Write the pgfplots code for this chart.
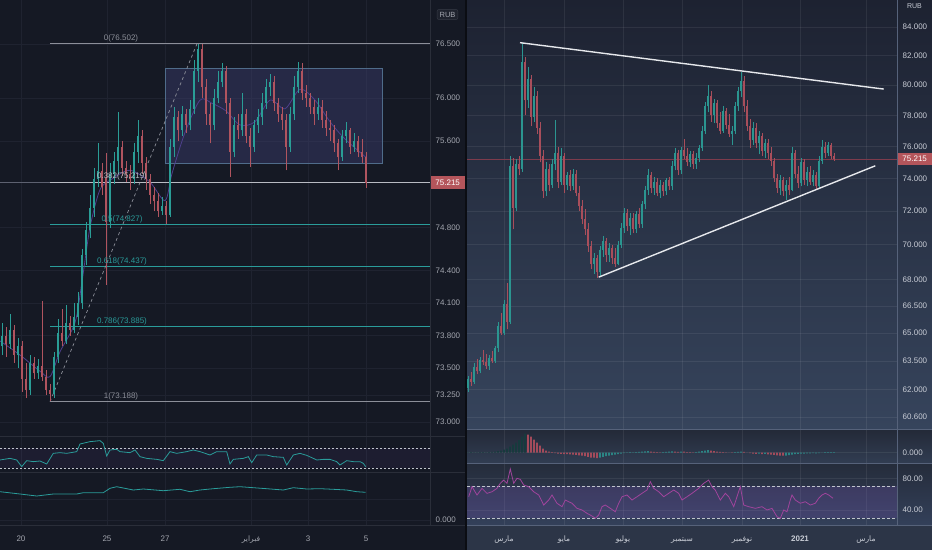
\documentclass[border=0pt]{standalone}
\usepackage{pgfplots}
\pgfplotsset{compat=1.18}
\usepackage{pgfplotstable}
\usepackage{fontspec}
\setmainfont{Liberation Sans}
\newfontfamily\arabicfont[Script=Arabic]{DejaVu Sans}
\TeXXeTstate=1
\newcommand{\ar}[1]{{\arabicfont\fontsize{7.5}{9}\selectfont\beginR #1\endR}}

\definecolor{bgL}{HTML}{151924}
\definecolor{gapc}{HTML}{0B0D13}
\definecolor{gridL}{HTML}{1F2330}
\definecolor{sepL}{HTML}{2A2E39}
\definecolor{labL}{HTML}{A3A6AF}
\definecolor{labR}{HTML}{C9CDD6}
\definecolor{upc}{HTML}{2A9D96}
\definecolor{dnc}{HTML}{B0545F}
\definecolor{upR}{HTML}{2B9590}
\definecolor{dnR}{HTML}{A84E5B}
\definecolor{fibgray}{HTML}{8C8F99}
\definecolor{fiblight}{HTML}{B8BBC3}
\definecolor{fibteal}{HTML}{2A9C9A}
\definecolor{pricered}{HTML}{B4555B}
\definecolor{pline}{HTML}{5D6170}
\definecolor{rectfill}{HTML}{3C3E70}
\definecolor{rectdraw}{HTML}{4F6C8A}
\definecolor{maL}{HTML}{4E3F8C}
\definecolor{rtop}{HTML}{1D2231}
\definecolor{rbot}{HTML}{36445C}
\definecolor{mtop}{HTML}{232937}
\definecolor{mbot}{HTML}{313D52}
\definecolor{stop}{HTML}{252C3B}
\definecolor{sbot}{HTML}{33405A}
\definecolor{rstrip}{HTML}{2C3547}
\definecolor{trend}{HTML}{E6E8EC}
\definecolor{rubdraw}{HTML}{363A45}
\definecolor{rubfill}{HTML}{1E222D}
\definecolor{sepR}{HTML}{56627A}
\definecolor{rsiR}{HTML}{A0449C}
\definecolor{band}{HTML}{7E57C2}
\definecolor{dashc}{HTML}{C0C4CC}
\definecolor{rline}{HTML}{7D3B4C}
\definecolor{hdark}{HTML}{173A3D}
\definecolor{hred}{HTML}{A44B5B}
\definecolor{hteal}{HTML}{2B8585}

% ---------- left panel candles (x = position, o h l c) ----------
\pgfplotstableread{
x o h l c
2 73.70 73.92 73.62 73.80
10 73.72 74.00 73.68 73.85
18 73.62 73.78 73.50 73.70
30 73.30 73.62 73.25 73.55
38 73.45 73.58 73.40 73.52
54 73.26 73.65 73.22 73.60
58 73.60 73.95 73.55 73.82
66 73.75 74.08 73.72 73.92
74 73.85 74.10 73.82 73.97
78 73.97 74.20 73.90 74.10
82 74.10 74.60 74.05 74.55
86 74.55 74.85 74.45 74.78
90 74.78 75.10 74.70 74.98
94 74.98 75.35 74.90 75.25
98 75.25 75.58 75.18 75.32
110 74.85 75.40 74.80 75.30
114 75.30 75.50 75.20 75.42
118 75.42 75.87 75.30 75.55
134 75.25 75.58 75.20 75.50
138 75.50 75.80 75.40 75.65
162 74.95 75.08 74.92 75.00
170 74.92 75.62 74.90 75.55
174 75.55 75.92 75.45 75.82
182 75.70 75.93 75.65 75.85
190 75.75 75.98 75.70 75.90
194 75.90 76.35 75.85 76.25
198 76.25 76.50 76.15 76.45
214 75.75 76.08 75.70 76.00
218 76.00 76.25 75.95 76.15
222 76.15 76.32 76.10 76.25
234 75.50 75.82 75.45 75.75
242 75.70 76.05 75.65 75.85
254 75.55 75.80 75.50 75.75
258 75.75 75.90 75.68 75.82
262 75.82 76.05 75.75 75.95
266 75.95 76.18 75.90 76.10
270 76.10 76.22 76.02 76.15
290 75.55 75.92 75.50 75.85
294 75.85 76.20 75.80 76.10
298 76.10 76.33 76.05 76.25
318 75.85 76.00 75.80 75.92
342 75.45 75.70 75.42 75.65
346 75.65 75.78 75.58 75.70
354 75.55 75.68 75.50 75.60
}\Lup
\pgfplotstableread{
x o h l c
6 73.80 73.88 73.60 73.72
14 73.85 73.90 73.55 73.62
22 73.70 73.75 73.28 73.40
26 73.40 73.55 73.22 73.30
34 73.55 73.60 73.40 73.45
42 73.52 74.12 73.38 73.42
46 73.42 73.48 73.25 73.30
50 73.30 73.35 73.19 73.26
62 73.82 74.05 73.70 73.75
70 73.92 73.98 73.80 73.85
102 75.32 75.40 75.10 75.18
106 75.26 75.49 74.27 74.85
122 75.55 75.60 75.28 75.35
126 75.35 75.42 75.22 75.30
130 75.30 75.38 75.15 75.25
142 75.65 75.70 75.30 75.40
146 75.40 75.45 75.15 75.25
150 75.25 75.30 75.02 75.10
154 75.10 75.18 74.95 75.05
158 75.05 75.12 74.90 74.95
166 75.00 75.05 74.83 74.92
178 75.82 75.88 75.60 75.70
186 75.85 75.90 75.68 75.75
202 76.45 76.50 76.00 76.10
206 76.10 76.18 75.75 75.85
210 75.85 75.95 75.58 75.75
226 76.25 76.30 75.85 75.95
230 75.95 76.00 75.27 75.50
238 75.75 75.85 75.62 75.70
246 75.85 75.90 75.58 75.65
250 75.65 75.72 75.36 75.55
274 76.15 76.20 75.88 75.95
278 75.95 76.00 75.78 75.85
282 75.85 75.92 75.70 75.80
286 75.80 75.85 75.33 75.55
302 76.25 76.32 75.98 76.05
306 76.05 76.12 75.92 76.00
310 76.00 76.05 75.85 75.92
314 75.92 75.98 75.75 75.85
322 75.92 75.98 75.72 75.80
326 75.80 75.88 75.65 75.72
330 75.72 75.80 75.60 75.70
334 75.70 75.75 75.50 75.58
338 75.58 75.62 75.33 75.45
350 75.70 75.72 75.48 75.55
358 75.60 75.65 75.45 75.50
362 75.50 75.62 75.40 75.45
366 75.45 75.50 75.17 75.215
}\Ldn

% ---------- right panel candles ----------
\pgfplotstableread{
x o h l c
468 62.10 62.70 61.90 62.55
474 62.40 63.40 62.30 63.20
480 62.95 63.70 62.85 63.55
489 63.25 63.80 63.05 63.65
495 63.50 64.30 63.40 64.20
498 64.20 65.60 64.00 65.40
504 65.00 66.80 64.90 66.60
510 65.60 75.40 65.50 74.80
516 72.20 75.20 72.00 74.90
522 74.60 82.90 74.40 81.60
528 79.00 81.20 78.50 80.40
534 77.90 79.90 77.60 79.30
546 73.20 75.00 72.90 74.60
552 73.60 75.20 73.40 74.90
555 74.90 77.70 74.50 75.60
561 73.80 75.90 73.60 75.40
567 73.60 74.40 73.30 74.20
573 73.50 74.60 73.30 74.30
594 68.90 69.50 68.30 69.20
600 68.40 69.90 68.20 69.70
603 69.70 70.50 69.30 70.20
609 69.40 70.10 69.00 69.80
618 68.90 70.20 68.80 70.00
621 70.00 71.30 69.80 71.00
624 71.00 72.20 70.70 71.90
630 71.10 71.90 70.60 71.60
636 70.90 72.00 70.70 71.80
642 71.20 72.60 71.00 72.40
645 72.40 73.50 72.10 73.30
648 73.30 74.60 73.00 74.20
654 73.40 74.10 73.00 73.80
660 73.10 73.90 72.80 73.60
666 73.20 74.00 73.00 73.90
672 73.50 75.10 73.30 74.80
675 74.80 75.90 74.50 75.60
681 74.50 76.00 74.30 75.80
690 75.00 75.70 74.70 75.50
696 74.90 75.60 74.60 75.30
699 75.30 76.10 75.00 75.90
702 75.90 77.30 75.70 77.00
705 77.00 78.90 76.80 78.60
708 78.60 80.00 78.20 79.30
714 78.00 79.10 77.50 78.80
723 77.00 78.60 76.90 78.30
732 76.80 77.30 76.10 77.00
735 77.00 78.90 76.80 78.60
738 78.60 79.90 78.30 79.60
741 79.60 80.90 79.20 80.30
753 76.40 77.60 76.10 77.20
759 76.20 77.00 75.50 76.70
765 75.70 76.50 75.30 76.20
780 73.40 74.20 73.00 73.90
786 73.20 73.90 72.70 73.60
792 73.30 76.00 73.20 75.60
801 73.70 75.30 73.50 75.00
807 73.90 74.70 73.50 74.40
813 73.80 74.50 73.50 74.20
819 73.50 75.40 73.40 75.10
822 75.10 76.40 74.90 76.00
828 75.60 76.30 75.40 76.10
}\Rup
\pgfplotstableread{
x o h l c
471 62.55 62.90 62.20 62.40
477 63.20 63.60 62.80 62.95
483 63.55 64.10 63.30 63.45
486 63.45 63.90 63.10 63.25
492 63.65 64.05 63.40 63.50
501 65.40 66.10 64.90 65.00
507 66.60 67.80 65.20 65.60
513 74.80 75.30 70.90 72.20
519 74.90 75.40 74.20 74.60
525 81.60 81.90 78.00 79.00
531 80.40 80.70 77.30 77.90
537 79.30 79.60 76.80 77.20
540 77.20 77.60 75.00 75.40
543 75.40 75.80 72.80 73.20
549 74.60 74.90 73.20 73.60
558 75.60 76.00 73.40 73.80
564 75.40 75.60 73.10 73.60
570 74.20 74.50 73.20 73.50
576 74.30 74.50 72.90 73.10
579 73.10 73.50 72.00 72.30
582 72.30 72.70 71.20 71.50
585 71.50 72.10 70.60 70.90
588 70.90 71.30 69.60 69.90
591 69.90 70.20 68.60 68.90
597 69.20 69.40 68.10 68.40
606 70.20 70.40 69.00 69.40
612 69.80 70.00 68.90 69.20
615 69.20 69.80 68.70 68.90
627 71.90 72.10 70.80 71.10
633 71.60 71.90 70.70 70.90
639 71.80 72.20 71.00 71.20
651 74.20 74.40 73.10 73.40
657 73.80 74.00 72.90 73.10
663 73.60 73.80 72.90 73.20
669 73.90 74.10 73.30 73.50
678 75.60 75.80 74.20 74.50
684 75.80 76.50 75.20 75.40
687 75.40 75.90 74.80 75.00
693 75.50 75.70 74.60 74.90
711 79.30 79.60 77.60 78.00
717 78.80 79.00 77.20 77.50
720 77.50 78.20 76.80 77.00
726 78.30 78.50 77.10 77.40
729 77.40 78.10 76.60 76.80
744 80.30 80.60 78.20 78.60
747 78.60 79.00 77.00 77.30
750 77.30 77.80 75.90 76.40
756 77.20 77.50 75.90 76.20
762 76.70 76.90 75.40 75.70
768 76.20 76.50 75.20 75.60
771 75.60 76.00 74.80 75.10
774 75.10 75.30 73.80 74.00
777 74.00 74.30 73.10 73.40
783 73.90 74.10 72.90 73.20
789 73.60 74.10 73.00 73.30
795 75.60 75.80 74.00 74.30
798 74.30 74.80 73.40 73.70
804 75.00 75.20 73.60 73.90
810 74.40 74.80 73.60 73.80
816 74.20 74.40 73.30 73.50
825 76.00 76.30 75.30 75.60
831 76.10 76.20 75.20 75.40
834 75.40 75.60 75.10 75.215
}\Rdn

\pgfplotsset{
  tvbase/.style={scale only axis, anchor=south west, axis line style={draw=none},
    major tick length=0pt, tick style={draw=none},
    yticklabel pos=right,
    yticklabel style={anchor=west, inner sep=0pt, font=\fontsize{8}{9}\selectfont},
    xticklabel style={anchor=base, inner sep=0pt, yshift=-16pt, font=\fontsize{8}{9}\selectfont},
    xmajorgrids, ymajorgrids, clip mode=individual},
  tvL/.style={tvbase, xmin=0, xmax=430, width=430pt,
    xtick={21,107,165,251,308,366}, grid style={draw=gridL, line width=0.6pt},
    yticklabel style={text=labL, xshift=5.5pt}, xticklabel style={text=labL}},
  tvR/.style={tvbase, xmin=467, xmax=897, width=430pt,
    xtick={504,564,623,682,742,800,866}, grid style={draw=white, draw opacity=0.07, line width=0.6pt},
    yticklabel style={text=labR, xshift=5.5pt}, xticklabel style={text=labR}},
  cndl/.style n args={2}{draw=none, mark=none, forget plot,
    error bars/.cd, y dir=plus, y explicit, error mark=none,
    error bar style={draw=#1, line width=#2}},
}

\begin{document}
\begin{tikzpicture}[x=1pt,y=1pt]
\useasboundingbox (0,0) rectangle (932,550);
% backgrounds
\fill[bgL] (0,0) rectangle (465,550);
\fill[gapc] (465,0) rectangle (467,550);
\shade[top color=rtop, bottom color=rbot] (467,121) rectangle (932,550);
\shade[top color=mtop, bottom color=mbot] (467,87) rectangle (932,121);
\shade[top color=stop, bottom color=sbot] (467,25) rectangle (932,87);
\fill[rstrip] (467,0) rectangle (932,25);

% ================= LEFT MAIN =================
\begin{axis}[tvL, at={(0pt,114pt)}, height=436pt, ymin=72.870, ymax=76.907,
  ytick={73,73.25,73.5,73.8,74.1,74.4,74.8,75.6,76,76.5},
  yticklabels={73.000,73.250,73.500,73.800,74.100,74.400,74.800,75.600,76.000,76.500},
  xticklabels={}]
\addplot[fill=rectfill, fill opacity=0.45, draw=rectdraw, line width=0.8pt]
  coordinates {(165,75.398) (382,75.398) (382,76.27) (165,76.27)} -- cycle;
\addplot[draw=pline, line width=0.6pt] coordinates {(0,75.215) (430,75.215)};
\addplot[draw=fibgray, line width=0.7pt] coordinates {(50,76.502) (430,76.502)};
\addplot[draw=fiblight, line width=0.8pt] coordinates {(50,75.219) (430,75.219)};
\addplot[draw=fibteal, line width=0.7pt] coordinates {(50,74.827) (430,74.827)};
\addplot[draw=fibteal, line width=0.7pt] coordinates {(50,74.437) (430,74.437)};
\addplot[draw=fibteal, line width=0.9pt] coordinates {(50,73.885) (430,73.885)};
\addplot[draw=fibgray, line width=0.7pt] coordinates {(50,73.188) (430,73.188)};
\addplot[draw=fibgray, line width=0.7pt, dash pattern=on 3pt off 3pt] coordinates {(50,73.188) (197,76.502)};
% moving average
\addplot[draw=maL, line width=0.8pt, smooth] coordinates {(0,73.75) (20,73.62) (40,73.47) (50,73.42) (60,73.65) (75,73.92) (82,74.30) (90,74.80) (100,75.15) (112,75.25) (130,75.33) (150,75.22) (165,75.05) (172,75.30) (185,75.68) (200,75.98) (212,75.95) (226,75.88) (240,75.75) (255,75.78) (270,75.98) (285,75.90) (300,76.08) (315,75.98) (330,75.78) (345,75.62) (366,75.45)};
% candles
\addplot[cndl={upc}{0.6pt}] table[x=x, y=l, y error expr=\thisrow{h}-\thisrow{l}] {\Lup};
\addplot[cndl={dnc}{0.6pt}] table[x=x, y=l, y error expr=\thisrow{h}-\thisrow{l}] {\Ldn};
\addplot[cndl={upc}{2.4pt}] table[x=x, y=o, y error expr=\thisrow{c}-\thisrow{o}] {\Lup};
\addplot[cndl={dnc}{2.4pt}] table[x=x, y=c, y error expr=\thisrow{o}-\thisrow{c}] {\Ldn};
% fib labels
\begin{scope}[font=\fontsize{8}{9}\selectfont]
\node[text=fibgray, anchor=south, inner sep=1.5pt] at (axis cs:121,76.502) {0(76.502)};
\node[text=fiblight, anchor=south, inner sep=1.5pt] at (axis cs:122,75.219) {0.382(75.219)};
\node[text=fibteal, anchor=south, inner sep=1.5pt] at (axis cs:122,74.827) {0.5(74.827)};
\node[text=fibteal, anchor=south, inner sep=1.5pt] at (axis cs:122,74.437) {0.618(74.437)};
\node[text=fibteal, anchor=south, inner sep=1.5pt] at (axis cs:122,73.885) {0.786(73.885)};
\node[text=fibgray, anchor=south, inner sep=1.5pt] at (axis cs:121,73.188) {1(73.188)};
\node[fill=pricered, text=white, anchor=west, inner sep=0pt, minimum width=35pt, minimum height=13pt] at (axis cs:430,75.215) {75.215};
\end{scope}
\end{axis}

% ================= LEFT SUB 1 =================
\begin{axis}[tvL, at={(0pt,78pt)}, height=36pt, ymin=22, ymax=94, ytick=\empty, xticklabels={}]
\addplot[draw=none, fill=band, fill opacity=0.08] coordinates {(0,30) (430,30) (430,70) (0,70)} -- cycle;
\addplot[draw=dashc, line width=0.6pt, dash pattern=on 2pt off 2pt] coordinates {(0,70) (430,70)};
\addplot[draw=dashc, line width=0.6pt, dash pattern=on 2pt off 2pt] coordinates {(0,30) (430,30)};
\addplot[draw=fibteal, line width=0.8pt] coordinates {(0,46) (10,49.3) (16.7,46) (21.7,32.7) (26.7,44.7) (33.3,42.7) (40,44) (46.7,38) (53.3,59.3) (60,60.7) (66.7,59.3) (76.7,62.7) (80,78) (90,82.7) (100,84.7) (103.3,79.3) (106.7,54) (110,66) (116.7,67.3) (120,62.7) (130,60.7) (135,66) (140,52.7) (146.7,49.3) (156.7,47.3) (163.3,44.7) (170,62.7) (176.7,59.3) (186.7,62.7) (193.3,66) (200,62.7) (210,56) (216.7,62.7) (226.7,62.7) (230,38) (233.3,47.3) (243.3,49.3) (248.3,52.7) (251.7,40.7) (256.7,56) (266.7,56) (273.3,52.7) (283.3,51.3) (286.7,36) (293.3,56) (300,59.3) (306.7,55.3) (313.3,49.3) (316.7,46) (323.3,47.3) (330,47.3) (336.7,42.7) (340,36) (346.7,44.7) (353.3,42.7) (360,42.7) (363.3,39.3) (365.7,32.7)};
\end{axis}

% ================= LEFT SUB 2 =================
\begin{axis}[tvL, at={(0pt,25pt)}, height=53pt, ymin=-5, ymax=48, ytick={0,21}, yticklabels={0.000,},
  xticklabels={20,25,27,\ar{فبراير},3,5}]
\addplot[draw=fibteal, line width=0.8pt] coordinates {(0,28.3) (20,26) (36.7,24) (53.3,26) (76.7,26) (83.3,27.3) (103.3,27.3) (110,31.7) (116.7,33.3) (133.3,30) (143.3,31) (163.3,29.3) (180,30.7) (190,28.3) (200,30) (213.3,31.3) (230,32.7) (240,33.3) (253.3,32.3) (266.7,31.3) (283.3,30) (293.3,32.3) (306.7,31) (320,31.3) (333.3,30.7) (346.7,30) (356.7,28.3) (365.7,27.7)};
\end{axis}

% ================= RIGHT MAIN =================
\begin{axis}[tvR, at={(467pt,121pt)}, height=429pt, ymode=log, ymin=59.99, ymax=85.92,
  ytick={60.6,62,63.5,65,66.5,68,70,72,74,76,78,80,82,84},
  yticklabels={60.600,62.000,63.500,65.000,66.500,68.000,70.000,72.000,74.000,76.000,78.000,80.000,82.000,84.000},
  xticklabels={}]
\addplot[draw=rline, line width=0.7pt] coordinates {(467,75.215) (897,75.215)};
\addplot[cndl={upR}{0.5pt}] table[x=x, y=l, y error expr=\thisrow{h}-\thisrow{l}] {\Rup};
\addplot[cndl={dnR}{0.5pt}] table[x=x, y=l, y error expr=\thisrow{h}-\thisrow{l}] {\Rdn};
\addplot[cndl={upR}{1.8pt}] table[x=x, y=o, y error expr=\thisrow{c}-\thisrow{o}] {\Rup};
\addplot[cndl={dnR}{1.8pt}] table[x=x, y=c, y error expr=\thisrow{o}-\thisrow{c}] {\Rdn};
\addplot[draw=trend, line width=1.4pt] coordinates {(520,82.90) (883.7,79.75)};
\addplot[draw=trend, line width=1.4pt] coordinates {(598.7,68.12) (875.3,74.79)};
\node[fill=pricered, text=white, anchor=west, inner sep=0pt, minimum width=35pt, minimum height=12pt, font=\fontsize{8}{9}\selectfont] at (axis cs:897,75.215) {75.215};
\end{axis}

% ================= RIGHT MACD =================
\begin{axis}[tvR, at={(467pt,87pt)}, height=34pt, ymin=-10.3, ymax=23.7, ytick={0}, yticklabels={0.000}, xticklabels={}]
\addplot[ybar, bar width=1.8pt, bar shift=0pt, fill=hdark, draw=none] coordinates {(468,0.3) (471,0.5) (474,0.4) (477,0.3) (480,0.6) (483,0.5) (486,0.4) (489,0.6) (492,0.8) (495,1.2) (498,1.6) (501,2.2) (504,3.0) (507,4.0) (510,6) (513,8) (516,10) (519,12.5) (522,16) (525,19)};
\addplot[ybar, bar width=1.8pt, bar shift=0pt, fill=hred, draw=none] coordinates {(528,18) (531,16) (534,13) (537,10) (540,7) (543,4) (546,2) (549,1) (552,0.5) (555,-0.5) (558,-1) (561,-1.2) (564,-1.5) (567,-1.3) (570,-1.6) (573,-1.8) (576,-2.2) (579,-2.6) (582,-3.0) (585,-3.5) (588,-4.2) (591,-4.8) (594,-5.0) (597,-5.3) (651,1.2) (654,0.9) (657,0.6) (660,0.4) (675,1.0) (678,0.8) (684,1.0) (687,0.7) (690,0.5) (693,0.4) (711,2.0) (714,1.6) (717,1.2) (720,0.8) (723,0.6) (726,0.4) (729,0.2) (732,-0.2) (744,0.8) (747,0.2) (750,-0.5) (753,-0.8) (756,-1.2) (762,-1.3) (768,-1.6) (771,-1.8) (774,-2.2) (777,-2.6) (780,-2.8) (783,-3.0)};
\addplot[ybar, bar width=1.8pt, bar shift=0pt, fill=hteal, draw=none] coordinates {(600,-5.0) (603,-4.2) (606,-3.5) (609,-2.8) (612,-2.3) (615,-2.0) (618,-1.5) (621,-1.0) (624,-0.5) (627,0.3) (630,0.5) (633,0.3) (636,0.6) (639,0.8) (642,1.0) (645,1.3) (648,1.6) (663,0.5) (666,0.8) (669,1.0) (672,1.4) (681,1.2) (696,0.5) (699,1.0) (702,1.5) (705,2.0) (708,2.5) (735,0.5) (738,0.8) (741,1.0) (759,-1.0) (765,-1.2) (786,-2.8) (789,-2.5) (792,-1.8) (795,-1.5) (798,-1.2) (801,-0.8) (804,-0.8) (807,-0.6) (810,-0.7) (813,-0.5) (816,-0.6) (819,-0.3) (822,0.2) (825,0.5) (828,0.7) (831,0.6) (834,0.5)};
\end{axis}

% ================= RIGHT RSI =================
\begin{axis}[tvR, at={(467pt,25pt)}, height=62pt, ymin=20.9, ymax=99.4, ytick={40,80}, yticklabels={40.00,80.00},
  xticklabels={\ar{مارس},\ar{مايو},\ar{يوليو},\ar{سبتمبر},\ar{نوفمبر},{\bfseries 2021},\ar{مارس}}]
\addplot[draw=none, fill=band, fill opacity=0.22] coordinates {(467,30) (897,30) (897,70) (467,70)} -- cycle;
\addplot[draw=dashc, line width=0.6pt, dash pattern=on 2.5pt off 2.5pt] coordinates {(467,70) (897,70)};
\addplot[draw=dashc, line width=0.6pt, dash pattern=on 2.5pt off 2.5pt] coordinates {(467,30) (897,30)};
\addplot[draw=rsiR, line width=0.8pt] coordinates {(468.7,56.7) (472,69.4) (477,58.9) (482,67.3) (487,61) (492,63) (497,67.3) (500.3,73.7) (503.7,77.8) (507,73.7) (510.3,91.8) (513.7,73.7) (517,80) (520.3,78.7) (523.7,71.5) (528.7,69.4) (533.7,63) (538.7,58.9) (543.7,46.2) (548.7,52.5) (552,58.9) (557,48.4) (562,44.1) (565.3,52.5) (572,48.4) (577,42) (582,39.9) (587,35.7) (592,32.3) (595.3,29.4) (598.7,33.5) (602,44.1) (605.3,46.2) (610.3,42) (615.3,37.7) (618.7,48.4) (622,56.7) (627,58.9) (632,52.5) (637,56.7) (642,61) (647,65.2) (650.3,75.7) (653.7,67.3) (658.7,63) (663.7,56.7) (668.7,61) (673.7,65.2) (678.7,61) (682,52.5) (687,56.7) (692,61) (698.7,67.3) (703.7,73.7) (708.7,77.8) (712,69.4) (715.3,65.2) (720.3,52.5) (725.3,61) (728.7,56.7) (733.7,44.1) (737,56.7) (740.3,69.4) (743.7,46.2) (748.7,44.1) (755.3,42) (762,44.1) (767,39.9) (772,42) (777,31.4) (780.3,29.4) (783.7,39.9) (787,37.7) (790.3,52.5) (792,58.9) (795.3,52.5) (800.3,48.4) (805.3,50.4) (810.3,46.2) (815.3,48.4) (818.7,54.7) (822,58.9) (825.3,61) (828.7,58.9) (833,54.7)};
\end{axis}

% separators and labels
\draw[sepL, line width=0.8pt] (0,114) -- (465,114);
\draw[sepL, line width=0.8pt] (0,78) -- (465,78);
\draw[sepL, line width=0.8pt] (0,25) -- (465,25);
\draw[sepL, line width=0.8pt] (430,25) -- (430,550);
\draw[sepR, line width=0.8pt] (467,121) -- (932,121);
\draw[sepR, line width=0.8pt] (467,87) -- (932,87);
\draw[sepR, line width=0.8pt] (467,25) -- (932,25);
\draw[sepR, line width=0.8pt] (897,25) -- (897,550);
\node[draw=rubdraw, fill=rubfill, rounded corners=2pt, text=labL, inner sep=2.5pt, font=\fontsize{7.5}{8}\selectfont] at (447.5,535.5) {RUB};
\node[text=labR, inner sep=0pt, font=\fontsize{7}{8}\selectfont] at (914.5,544) {RUB};
\end{tikzpicture}
\end{document}
